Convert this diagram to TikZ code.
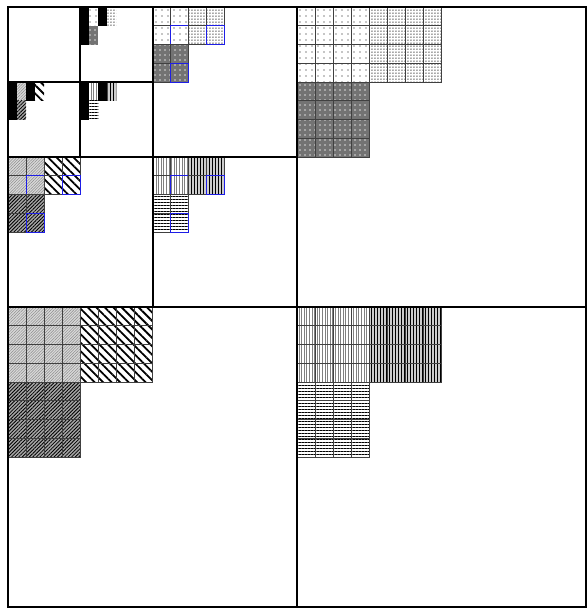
\documentclass[tikz,border=0pt]{standalone}
\usepackage{xcolor}
\usepackage{tikz}
\usetikzlibrary{patterns.meta}
\definecolor{tikzblue}{RGB}{30, 30, 230}
\definecolor{tikzgray}{RGB}{90, 90, 90}

\begin{document}
\begin{tikzpicture}[
  x=36.125pt, y=-37.5pt,
  frame/.style={draw=black, line width=2pt},
  cellgrid/.style={draw=black!75, line width=0.7pt},
  hilite/.style={draw=tikzblue, line width=1pt},
  dotsA/.style={pattern={Dots[distance=6pt, radius=0.8pt]}, pattern color=black!45},
  dotsB/.style={pattern={Dots[distance=3pt, radius=0.75pt]}, pattern color=black!70},
  dotsC/.style={preaction={fill=black!55}, pattern={Dots[distance=5pt, radius=0.9pt]}, pattern color=black!15},
  diagA/.style={preaction={fill=black!15}, pattern={Lines[angle=45, distance=2pt, line width=0.5pt]}, pattern color=black!45},
  diagB/.style={pattern={Lines[angle=-45, distance=6pt, line width=1.8pt]}, pattern color=black},
  diagC/.style={preaction={fill=black!35}, pattern={Lines[angle=45, distance=2.5pt, line width=0.8pt]}, pattern color=black},
  lineA/.style={pattern={Lines[angle=90, distance=2.6pt, line width=0.8pt]}, pattern color=black!50},
  lineB/.style={preaction={fill=black!20}, pattern={Lines[angle=90, distance=3pt, line width=1pt]}, pattern color=black},
  lineC/.style={pattern={Lines[angle=0, distance=3pt, line width=1pt]}, pattern color=black}
]
\useasboundingbox (-0.2215,-0.187) rectangle (16.055,16.08);

% Level 1: big quadrants, blocks of 4x4 cells
\foreach \bx/\by/\pat in {8/0/dotsA, 10/0/dotsB, 8/2/dotsC,
                          0/8/diagA, 2/8/diagB, 0/10/diagC,
                          8/8/lineA, 10/8/lineB, 8/10/lineC} {
  \fill[\pat] (\bx,\by) rectangle ++(2,2);
  \foreach \i in {0.5,1,1.5} {
    \draw[cellgrid] (\bx+\i,\by) -- ++(0,2);
    \draw[cellgrid] (\bx,\by+\i) -- ++(2,0);
  }
  \draw[cellgrid] (\bx,\by) rectangle ++(2,2);
}

% Level 2: blocks of 2x2 cells, last cell marked
\foreach \bx/\by/\pat in {4/0/dotsA, 5/0/dotsB, 4/1/dotsC,
                          0/4/diagA, 1/4/diagB, 0/5/diagC,
                          4/4/lineA, 5/4/lineB, 4/5/lineC} {
  \fill[\pat] (\bx,\by) rectangle ++(1,1);
  \draw[cellgrid] (\bx,\by) rectangle ++(1,1)
    (\bx+0.5,\by) -- ++(0,1) (\bx,\by+0.5) -- ++(1,0);
  \draw[hilite] (\bx+0.5,\by+0.5) rectangle ++(0.5,0.5);
}

% Level 3: single cells, half black
\foreach \bx/\by/\pat in {2/0/dotsA, 2.5/0/dotsB, 2/0.5/dotsC,
                          0/2/diagA, 0.5/2/diagB, 0/2.5/diagC,
                          2/2/lineA, 2.5/2/lineB, 2/2.5/lineC} {
  \fill[\pat] (\bx+0.25,\by) rectangle ++(0.25,0.5);
  \fill[black] (\bx,\by) rectangle ++(0.25,0.5);
}

% Quadrant frames
\draw[frame] (0,0) rectangle (16,16);
\draw[frame] (8,0) -- (8,16) (0,8) -- (16,8);
\draw[frame] (4,0) -- (4,8) (0,4) -- (8,4);
\draw[frame] (2,0) -- (2,4) (0,2) -- (4,2);

\end{tikzpicture}
\end{document}
